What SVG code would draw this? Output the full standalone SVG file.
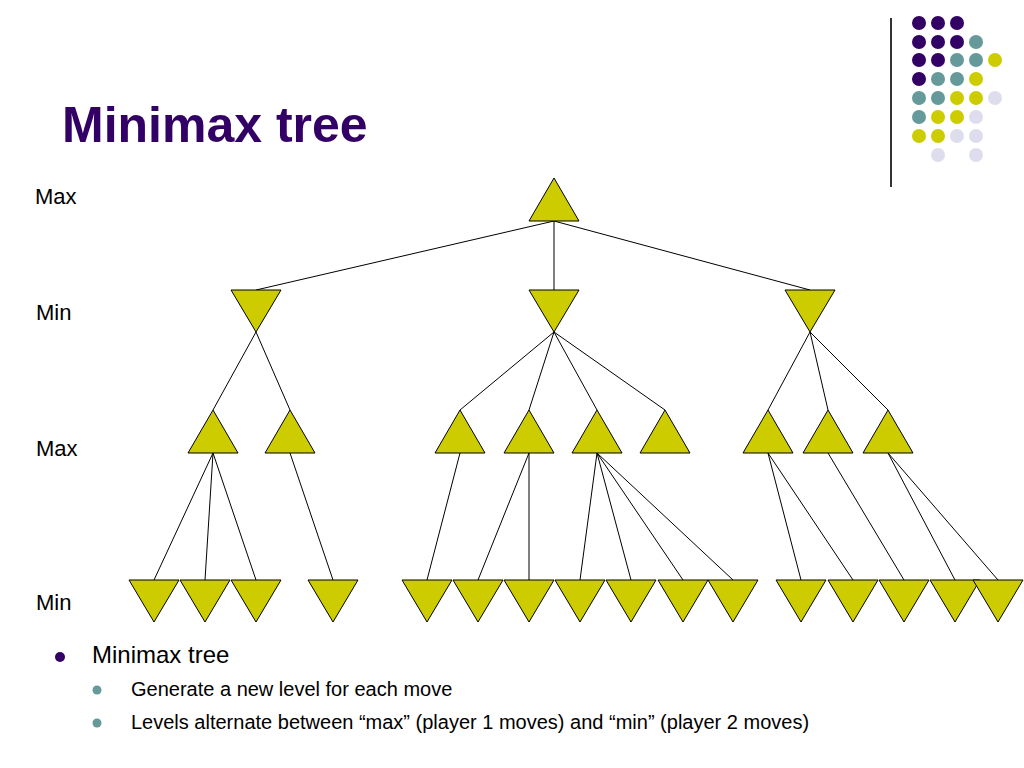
<svg xmlns="http://www.w3.org/2000/svg" width="1024" height="768" viewBox="0 0 1024 768">
<style>
.t{font-family:"Liberation Sans",Arial,sans-serif;fill:#000}
.n{fill:#CCCC00;stroke:#000;stroke-width:1}
.e{stroke:#000;stroke-width:1}
.P{fill:#330066}.T{fill:#669999}.Y{fill:#CCCC00}.L{fill:#DDDDEE}
</style>
<defs>
<path id="up" d="M0,0 L25,43 L-25,43 Z"/>
<path id="dn" d="M-25,0 L25,0 L0,42 Z"/>
</defs>
<rect width="1024" height="768" fill="#fff"/>
<line x1="891" y1="18" x2="891" y2="187" stroke="#333" stroke-width="2"/>
<g>
<circle class="P" cx="919" cy="23" r="7"/><circle class="P" cx="938" cy="23" r="7"/><circle class="P" cx="957" cy="23" r="7"/>
<circle class="P" cx="919" cy="42" r="7"/><circle class="P" cx="938" cy="42" r="7"/><circle class="P" cx="957" cy="42" r="7"/><circle class="T" cx="976" cy="42" r="7"/>
<circle class="P" cx="919" cy="60" r="7"/><circle class="P" cx="938" cy="60" r="7"/><circle class="T" cx="957" cy="60" r="7"/><circle class="T" cx="976" cy="60" r="7"/><circle class="Y" cx="995" cy="60" r="7"/>
<circle class="P" cx="919" cy="79" r="7"/><circle class="T" cx="938" cy="79" r="7"/><circle class="T" cx="957" cy="79" r="7"/><circle class="Y" cx="976" cy="79" r="7"/>
<circle class="T" cx="919" cy="98" r="7"/><circle class="T" cx="938" cy="98" r="7"/><circle class="Y" cx="957" cy="98" r="7"/><circle class="Y" cx="976" cy="98" r="7"/><circle class="L" cx="995" cy="98" r="7"/>
<circle class="T" cx="919" cy="117" r="7"/><circle class="Y" cx="938" cy="117" r="7"/><circle class="Y" cx="957" cy="117" r="7"/><circle class="L" cx="976" cy="117" r="7"/>
<circle class="Y" cx="919" cy="136" r="7"/><circle class="Y" cx="938" cy="136" r="7"/><circle class="L" cx="957" cy="136" r="7"/><circle class="L" cx="976" cy="136" r="7"/>
<circle class="L" cx="938" cy="155" r="7"/><circle class="L" cx="976" cy="155" r="7"/>
</g>
<text x="62" y="142" font-family="Liberation Sans,Arial,sans-serif" font-size="50" font-weight="bold" fill="#330066">Minimax tree</text>
<text class="t" x="35" y="204" font-size="22">Max</text>
<text class="t" x="36" y="320" font-size="22">Min</text>
<text class="t" x="36" y="456" font-size="22">Max</text>
<text class="t" x="36" y="610" font-size="22">Min</text>
<g id="connectors">
<line class="e" x1="554" y1="221" x2="256" y2="290"/><line class="e" x1="554" y1="221" x2="554" y2="290"/><line class="e" x1="554" y1="221" x2="810" y2="290"/>
<line class="e" x1="256" y1="332" x2="213" y2="410"/><line class="e" x1="256" y1="332" x2="290" y2="410"/>
<line class="e" x1="554" y1="332" x2="460" y2="410"/><line class="e" x1="554" y1="332" x2="529" y2="410"/><line class="e" x1="554" y1="332" x2="597" y2="410"/><line class="e" x1="554" y1="332" x2="665" y2="410"/>
<line class="e" x1="810" y1="332" x2="768" y2="410"/><line class="e" x1="810" y1="332" x2="828" y2="410"/><line class="e" x1="810" y1="332" x2="888" y2="410"/>
<line class="e" x1="213" y1="453" x2="154" y2="580"/><line class="e" x1="213" y1="453" x2="205" y2="580"/><line class="e" x1="213" y1="453" x2="256" y2="580"/>
<line class="e" x1="290" y1="453" x2="333" y2="580"/>
<line class="e" x1="460" y1="453" x2="427" y2="580"/>
<line class="e" x1="529" y1="453" x2="478" y2="580"/><line class="e" x1="529" y1="453" x2="529" y2="580"/>
<line class="e" x1="597" y1="453" x2="580" y2="580"/><line class="e" x1="597" y1="453" x2="631" y2="580"/><line class="e" x1="597" y1="453" x2="683" y2="580"/><line class="e" x1="597" y1="453" x2="733" y2="580"/>
<line class="e" x1="768" y1="453" x2="801" y2="580"/><line class="e" x1="768" y1="453" x2="853" y2="580"/>
<line class="e" x1="828" y1="453" x2="904" y2="580"/>
<line class="e" x1="888" y1="453" x2="955" y2="580"/><line class="e" x1="888" y1="453" x2="998" y2="580"/>
</g>
<g id="root"><use href="#up" class="n" x="554" y="178"/></g>
<g id="min1"><use href="#dn" class="n" x="256" y="290"/><use href="#dn" class="n" x="554" y="290"/><use href="#dn" class="n" x="810" y="290"/></g>
<g id="max2">
<use href="#up" class="n" x="213" y="410"/><use href="#up" class="n" x="290" y="410"/>
<use href="#up" class="n" x="460" y="410"/><use href="#up" class="n" x="529" y="410"/><use href="#up" class="n" x="597" y="410"/><use href="#up" class="n" x="665" y="410"/>
<use href="#up" class="n" x="768" y="410"/><use href="#up" class="n" x="828" y="410"/><use href="#up" class="n" x="888" y="410"/>
</g>
<g id="leaves">
<use href="#dn" class="n" x="154" y="580"/><use href="#dn" class="n" x="205" y="580"/><use href="#dn" class="n" x="256" y="580"/><use href="#dn" class="n" x="333" y="580"/>
<use href="#dn" class="n" x="427" y="580"/><use href="#dn" class="n" x="478" y="580"/><use href="#dn" class="n" x="529" y="580"/><use href="#dn" class="n" x="580" y="580"/><use href="#dn" class="n" x="631" y="580"/><use href="#dn" class="n" x="683" y="580"/><use href="#dn" class="n" x="733" y="580"/>
<use href="#dn" class="n" x="801" y="580"/><use href="#dn" class="n" x="853" y="580"/><use href="#dn" class="n" x="904" y="580"/><use href="#dn" class="n" x="955" y="580"/><use href="#dn" class="n" x="998" y="580"/>
</g>
<circle cx="60" cy="657" r="5" fill="#330066"/>
<text class="t" x="92" y="663" font-size="24">Minimax tree</text>
<circle cx="97" cy="690" r="4.5" fill="#669999"/>
<text class="t" x="131" y="696" font-size="20">Generate a new level for each move</text>
<circle cx="97" cy="723" r="4.5" fill="#669999"/>
<text class="t" x="131" y="729" font-size="20">Levels alternate between “max” (player 1 moves) and “min” (player 2 moves)</text>
</svg>
